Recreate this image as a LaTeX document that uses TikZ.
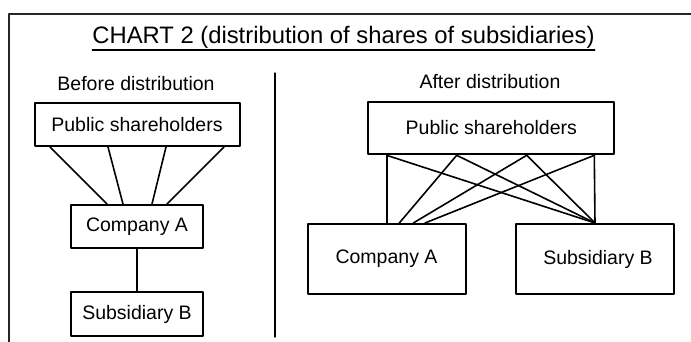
\documentclass[tikz,border=0pt]{standalone}
\usepackage{fontspec}
\setmainfont{Liberation Sans}
\usetikzlibrary{calc}

\tikzset{
    box/.style={draw,line width=2pt,inner sep=0pt,font=\fontsize{19.5}{23}\selectfont},
    label/.style={inner sep=0pt,font=\fontsize{19.5}{23}\selectfont},
    link/.style={line width=1.6pt}
}

\begin{document}
\begin{tikzpicture}[line cap=round,line join=round,x=1pt,y=-1pt]
    \useasboundingbox (0,0) rectangle (691,342);
    % frame and divider
    \draw[line width=2pt,color=black!85] (691,14) -- (9,14) -- (9,342);
    \draw[line width=1.2pt] (275,73) -- (275,337);
    % title
    \node[inner sep=0pt,anchor=base,font=\fontsize{23.8}{28}\selectfont] (title) at (343.5,44) {CHART 2 (distribution of shares of subsidiaries)};
    \draw[line width=1.2pt] ($(title.base west)+(0,6)$) -- ($(title.base east)+(0,6)$);
    % before distribution
    \node[label,anchor=base] (before) at (136,90.5) {Before distribution};
    \node[box,minimum width=205pt,minimum height=43pt] (psL) at (137,124.5) {Public shareholders};
    \node[box,minimum width=132pt,minimum height=43pt] (caL) at (137,226.5) {Company A};
    \node[box,minimum width=132pt,minimum height=44pt] (sbL) at (137,314) {Subsidiary B};
    \foreach \a/\b in {50/107,108/123,166/152,224/167}
    \draw[link] (psL.south -| \a,0) -- (caL.north -| \b,0);
    \draw[link] (caL) -- (sbL);
    % after distribution
    \node[label,anchor=base] (after) at (490,89) {After distribution};
    \node[box,minimum width=246pt,minimum height=52.6pt] (psR) at (491.3,128) {Public shareholders};
    \node[box,minimum width=158pt,minimum height=70pt] (caR) at (386.5,259) {Company A};
    \node[box,minimum width=158pt,minimum height=70pt] (sbR) at (595,259) {\hspace{6pt}Subsidiary B};
    \foreach \a/\b in {386.7/386.7,456.7/399.3,526.7/413.3,594.3/425}
    {
    \draw[link] (psR.south -| \a,0) -- (caR.north -| \b,0);
    \draw[link] (psR.south -| \a,0) -- (sbR.north -| 595,0);
    }
\end{tikzpicture}
\end{document}
